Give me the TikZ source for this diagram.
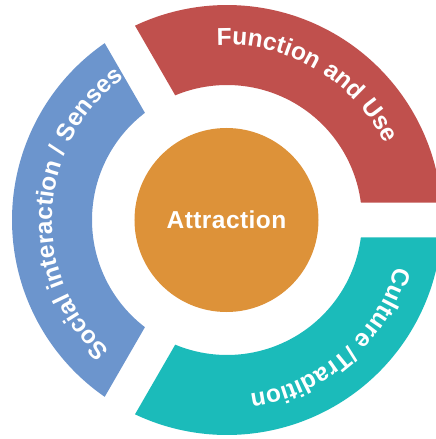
\documentclass[tikz,border=0pt]{standalone}
\usepackage{fontspec}
\usetikzlibrary{decorations.text}
\newfontfamily\labelfont{Liberation Sans}[LetterSpace=1.8]
\definecolor{segred}{HTML}{C0504D}
\definecolor{segblue}{HTML}{6C95CD}
\definecolor{segteal}{HTML}{1BBBBA}
\definecolor{hubor}{HTML}{DD9239}

\begin{document}
\begin{tikzpicture}[x=1pt,y=1pt,
  segment/.style={fill=#1, draw=none},
  labeltype/.style={font=\labelfont\bfseries\fontsize{24.5}{28}\selectfont},
  ringlabel/.style={decorate, decoration={text along path, text align=center,
    text={|\labelfont\bfseries\fontsize{24.5}{28}\selectfont\color{white}|#1}}}
]
% ring radii and half width of the gaps between segments
\def\Rout{215}
\def\Rin{135}
\def\Rtext{175}
\def\gap{17.5}
\pgfmathsetmacro\ao{asin(\gap/\Rout)}
\pgfmathsetmacro\ai{asin(\gap/\Rin)}
\useasboundingbox (-227,-219) rectangle (209,220);
\clip (-227,-219) rectangle (209,220);

% three ring segments separated by straight gaps
\foreach \s/\c in {0/segred,120/segblue,240/segteal}{
  \path[segment=\c]
    (\s+\ao:\Rout) arc[start angle=\s+\ao, end angle=\s+120-\ao, radius=\Rout]
    -- (\s+120-\ai:\Rin) arc[start angle=\s+120-\ai, end angle=\s+\ai, radius=\Rin]
    -- cycle;
}

% central hub
\node[circle, fill=hubor, minimum size=184pt, inner sep=0pt, text=white, labeltype] (hub) at (-0.5,0) {Attraction};

% curved labels, running clockwise
\path[ringlabel={Function and Use}]
  (149.5:\Rtext) arc[start angle=149.5, end angle=-30.5, radius=\Rtext];
\path[ringlabel={Social interaction / Senses}]
  (267:\Rtext) arc[start angle=267, end angle=87, radius=\Rtext];
\path[ringlabel={Culture /Tradition}]
  (401:\Rtext) arc[start angle=401, end angle=221, radius=\Rtext];
\end{tikzpicture}
\end{document}
